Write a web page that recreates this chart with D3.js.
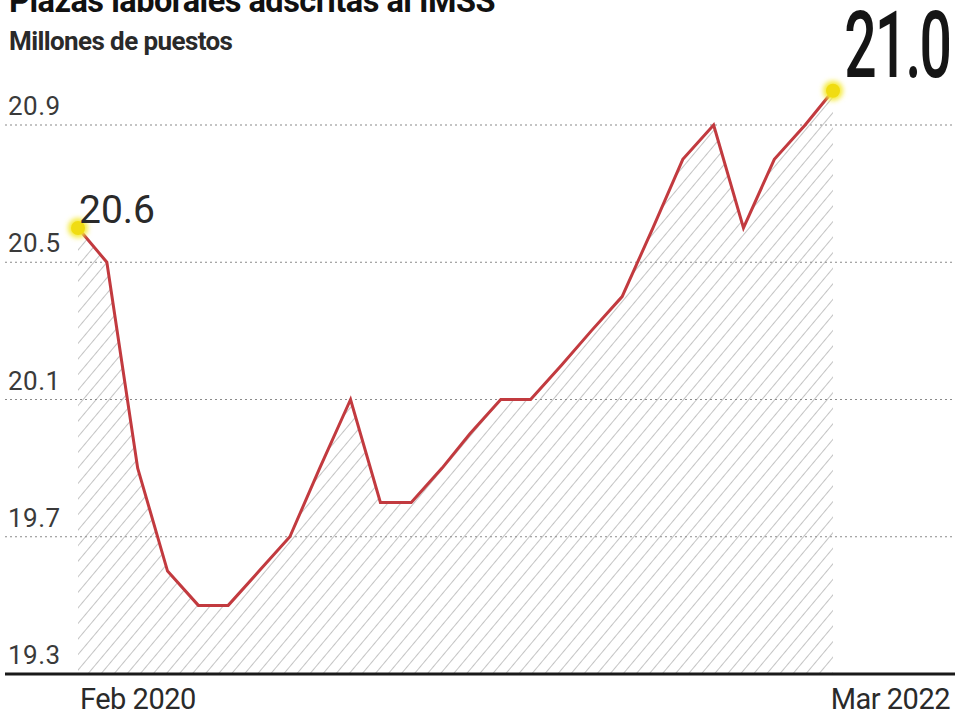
<!DOCTYPE html>
<html lang="es">
<head>
<meta charset="utf-8" />
<title>Plazas laborales adscritas al IMSS</title>
<script src="https://cdn.jsdelivr.net/npm/d3@7/dist/d3.min.js"></script>
<style>
	body { margin: 0; padding: 0; background: #fff; overflow: hidden; }
	text { font-family: Roboto, 'Noto Sans', sans-serif; }
</style>
</head>
<body>
<div id="chart"></div>
<script>
// monthly series, Feb 2020 .. Mar 2022 (millones de puestos)
const months = ["2020-02","2020-03","2020-04","2020-05","2020-06","2020-07","2020-08","2020-09","2020-10","2020-11","2020-12",
	"2021-01","2021-02","2021-03","2021-04","2021-05","2021-06","2021-07","2021-08","2021-09","2021-10","2021-11","2021-12",
	"2022-01","2022-02","2022-03"];
const puestos = [20.6,20.5,19.9,19.6,19.5,19.5,19.6,19.7,19.9,20.1,19.8,19.8,19.9,20.0,20.1,20.1,20.2,20.3,20.4,20.6,20.8,20.9,20.6,20.8,20.9,21.0];
const yTicks = [19.3, 19.7, 20.1, 20.5, 20.9];
const xLabels = ["Feb 2020", "Mar 2022"];

const W = 955, H = 717;
const svg = d3.select("#chart").append("svg").attr("width", W).attr("height", H);

const parse = d3.timeParse("%Y-%m");
const data = months.map((m, i) => ({ date: parse(m), v: puestos[i] }));

const x = d3.scaleTime().domain(d3.extent(data, d => d.date)).range([78, 833]);
const y = d3.scaleLinear().domain([19.3, 20.9]).range([674, 125]);

// hatch pattern
const defs = svg.append("defs");
const pat = defs.append("pattern")
	.attr("id", "hatch").attr("patternUnits", "userSpaceOnUse")
	.attr("width", 10).attr("height", 10)
	.attr("patternTransform", "rotate(40)");
pat.append("line").attr("x1", 0).attr("y1", 0).attr("x2", 0).attr("y2", 10)
	.attr("stroke", "#bdbdbd").attr("stroke-width", 1.8);

const glow = defs.append("filter").attr("id", "glow")
	.attr("x", "-100%").attr("y", "-100%").attr("width", "300%").attr("height", "300%");
glow.append("feGaussianBlur").attr("stdDeviation", 2.5);

// area
svg.append("path").datum(data)
	.attr("fill", "url(#hatch)")
	.attr("d", d3.area().x(d => x(d.date)).y0(y(19.3)).y1(d => y(d.v)));

// grid lines + labels
const grid = svg.append("g");
grid.selectAll("line").data(yTicks.filter(t => t > 19.3)).enter().append("line")
	.attr("x1", 5).attr("x2", 955)
	.attr("y1", d => y(d)).attr("y2", d => y(d))
	.attr("stroke", "#8a8a8a").attr("stroke-width", 1.2).attr("stroke-dasharray", "2,3");
grid.selectAll("text").data(yTicks).enter().append("text")
	.attr("x", 8).attr("y", d => y(d) - 10)
	.attr("font-size", 26).attr("fill", "#3a3a3a").attr("letter-spacing", 0.5)
	.text(d => d.toFixed(1));

// baseline axis
svg.append("line").attr("x1", 5).attr("x2", 955).attr("y1", y(19.3)).attr("y2", y(19.3))
	.attr("stroke", "#1a1a1a").attr("stroke-width", 3);

// x labels
svg.append("text").attr("x", 80).attr("y", 709).attr("font-size", 29).attr("fill", "#2a2a2a")
	.attr("letter-spacing", -0.5)
	.text(xLabels[0]);
svg.append("text").attr("x", 950).attr("y", 709).attr("font-size", 29).attr("fill", "#2a2a2a")
	.attr("text-anchor", "end").attr("letter-spacing", -0.5)
	.text(xLabels[1]);

// line
svg.append("path").datum(data)
	.attr("fill", "none").attr("stroke", "#c23a3f").attr("stroke-width", 3)
	.attr("stroke-linejoin", "miter")
	.attr("d", d3.line().x(d => x(d.date)).y(d => y(d.v)));

// end points
const ends = [data[0], data[data.length - 1]];
svg.selectAll("circle.glow").data(ends).enter().append("circle")
	.attr("cx", d => x(d.date)).attr("cy", d => y(d.v)).attr("r", 10)
	.attr("fill", "#f5ea3a").attr("filter", "url(#glow)");
svg.selectAll("circle.dot").data(ends).enter().append("circle")
	.attr("cx", d => x(d.date)).attr("cy", d => y(d.v)).attr("r", 7)
	.attr("fill", "#f0dc12");

svg.append("text").attr("x", x(ends[0].date) + 1).attr("y", y(ends[0].v) - 5)
	.attr("font-size", 39).attr("fill", "#2a2a2a").text(ends[0].v.toFixed(1));

svg.append("text").attr("x", 950).attr("y", 77).attr("text-anchor", "end")
	.attr("font-size", 92).attr("font-weight", 500).attr("fill", "#151515")
	.attr("letter-spacing", -3)
	.attr("transform", "translate(950,0) scale(0.62,1) translate(-950,0)")
	.text(ends[1].v.toFixed(1));

// titles
svg.append("text").attr("x", 9).attr("y", 12).attr("font-size", 32.5).attr("font-weight", 700)
	.attr("fill", "#111").attr("letter-spacing", -0.5)
	.text("Plazas laborales adscritas al IMSS");
svg.append("text").attr("x", 9).attr("y", 50).attr("font-size", 26).attr("font-weight", 700)
	.attr("fill", "#2a2a2a").attr("letter-spacing", -0.6)
	.text("Millones de puestos");
</script>
</body>
</html>
